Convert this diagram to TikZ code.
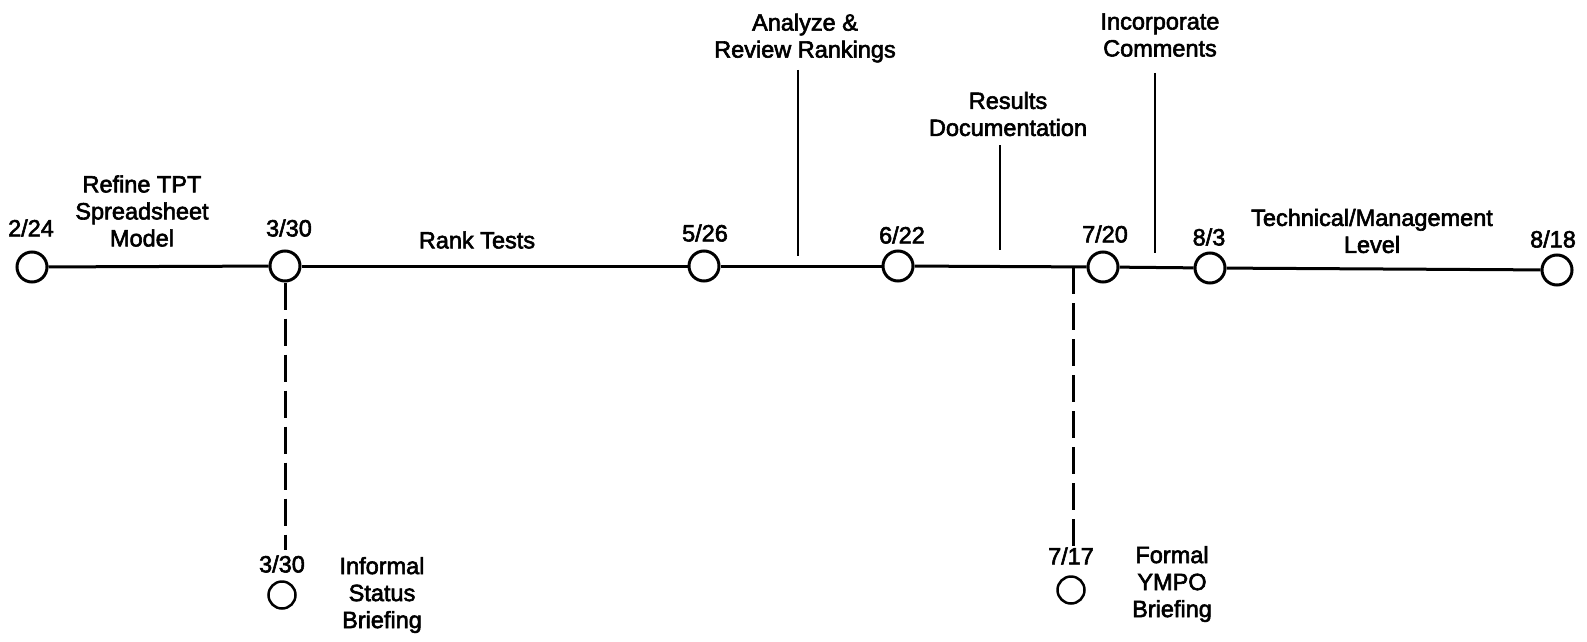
\documentclass[tikz,border=0pt]{standalone}
\usepackage{fontspec}
\newfontfamily\tlfont{Liberation Sans}[UprightFeatures={FakeBold=2.5}]
\tikzset{
  mile/.style={circle,draw,line width=3pt,minimum size=30pt,inner sep=0pt},
  smallmile/.style={circle,draw,line width=2.5pt,minimum size=27pt,inner sep=0pt},
  lbl/.style={font=\tlfont\fontsize{23.5}{27}\selectfont,align=center,inner sep=0pt},
  track/.style={line width=3pt},
  tick/.style={line width=2.5pt},
  dashline/.style={line width=3pt,dash pattern=on 27pt off 9pt}
}
\begin{document}
\begin{tikzpicture}[x=1pt,y=-1pt]
    \useasboundingbox (0,0) rectangle (1587,642);
    \node[mile] (m224) at (32,267) {};
    \node[mile] (m330) at (285,266) {};
    \node[mile] (m526) at (704,266) {};
    \node[mile] (m622) at (898,266) {};
    \node[mile] (m720) at (1103,267) {};
    \node[mile] (m83) at (1210,268) {};
    \node[mile] (m818) at (1557,270) {};
    \foreach \a/\b in {m224/m330,m330/m526,m526/m622,m622/m720,m720/m83,m83/m818}
      \draw[track] (\a) -- (\b);
    \node[lbl] (d224) at (31,228) {2/24};
    \node[lbl] (d330) at (289,228) {3/30};
    \node[lbl] (d526) at (705,233) {5/26};
    \node[lbl] (d622) at (902,235) {6/22};
    \node[lbl] (d720) at (1105,234) {7/20};
    \node[lbl] (d83) at (1209,237) {8/3};
    \node[lbl] (d818) at (1553,239) {8/18};
    \node[lbl] (refine) at (142,211) {Refine TPT\\Spreadsheet\\Model};
    \node[lbl] (rank) at (477,240) {Rank Tests};
    \node[lbl] (analyze) at (805,38) {Analyze \&\\Review Rankings};
    \node[lbl] (results) at (1008,114) {Results\\Documentation};
    \node[lbl] (incorp) at (1160,35) {Incorporate\\Comments};
    \node[lbl] (techlvl) at (1372,231) {Technical/Management\\Level};
    \coordinate (a1) at (798,70);
    \coordinate (a2) at (798,256);
    \coordinate (r1) at (1000,145);
    \coordinate (r2) at (1000,250);
    \coordinate (i1) at (1155,73);
    \coordinate (i2) at (1155,253);
    \draw[tick] (a1) -- (a2);
    \draw[tick] (r1) -- (r2);
    \draw[tick] (i1) -- (i2);
    \node[smallmile] (s330) at (282,595) {};
    \node[smallmile] (s717) at (1071,590) {};
    \node[lbl] (d330b) at (282,564) {3/30};
    \node[lbl] (d717) at (1071,556) {7/17};
    \node[lbl] (informal) at (382,595) {Informal\\Status\\Briefing};
    \node[lbl] (formal) at (1172,584) {Formal\\YMPO\\Briefing};
    \coordinate (b330) at (285,550);
    \coordinate (t717) at (1073,267);
    \coordinate (b717) at (1073,550);
    \draw[dashline] (m330) -- (b330);
    \draw[dashline] (t717) -- (b717);
\end{tikzpicture}
\end{document}
